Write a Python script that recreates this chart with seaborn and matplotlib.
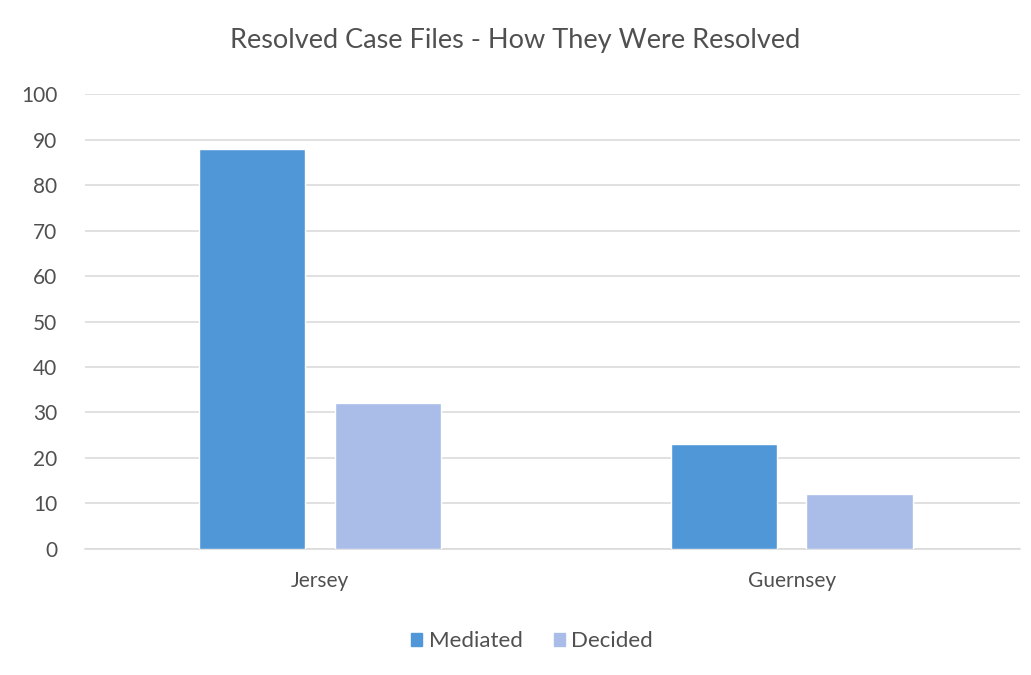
import matplotlib
matplotlib.use("Agg")
import matplotlib.pyplot as plt
import seaborn as sns
import pandas as pd

# Resolved case files by island and outcome
islands = ["Jersey", "Guernsey"]
outcomes = ["Mediated", "Decided"]
mediated = [88, 23]
decided = [32, 12]
y_ticks = [0, 10, 20, 30, 40, 50, 60, 70, 80, 90, 100]

df = pd.DataFrame({
    "Island": islands * 2,
    "Outcome": [outcomes[0]] * len(islands) + [outcomes[1]] * len(islands),
    "Cases": mediated + decided,
})

sns.set_theme(style="white")
plt.rcParams["font.family"] = ["Lato", "DejaVu Sans"]

text_color = "#505050"
grid_color = "#D9D9D9"
palette = {"Mediated": "#5097D8", "Decided": "#A9BDE8"}

fig = plt.figure(figsize=(10.31, 6.75), dpi=100)
ax = fig.add_axes([0.0824, 0.1867, 0.9066, 0.674])

sns.barplot(data=df, x="Island", y="Cases", hue="Outcome", order=islands,
            hue_order=outcomes, palette=palette, width=0.574, gap=0.216,
            saturation=1, ax=ax, legend=False, zorder=3)

ax.set_ylim(0, 100)
ax.set_xlim(-0.498, 1.483)
ax.set_yticks(y_ticks)
ax.yaxis.grid(True, color=grid_color, linewidth=1.1, zorder=0)
ax.set_axisbelow(True)
for side in ["left", "right", "top"]:
    ax.spines[side].set_visible(False)
ax.spines["bottom"].set_color(grid_color)
ax.spines["bottom"].set_linewidth(1.1)

ax.tick_params(axis="both", length=0, labelsize=15, colors=text_color)
ax.tick_params(axis="y", pad=20)
ax.tick_params(axis="x", pad=16)
ax.set_xlabel("")
ax.set_ylabel("")

fig.text(0.5, 0.94, "Resolved Case Files - How They Were Resolved",
         ha="center", va="center", fontsize=19.5, color=text_color)

handles = [plt.Rectangle((0, 0), 1, 1, color=palette[o]) for o in outcomes]
fig.legend(handles, outcomes, loc="center", bbox_to_anchor=(0.516, 0.05),
           ncol=2, frameon=False, fontsize=16, labelcolor=text_color,
           handlelength=0.5, handleheight=0.5, handletextpad=0.3,
           columnspacing=1.4)

fig.savefig("out.png", dpi=100, facecolor="white")
